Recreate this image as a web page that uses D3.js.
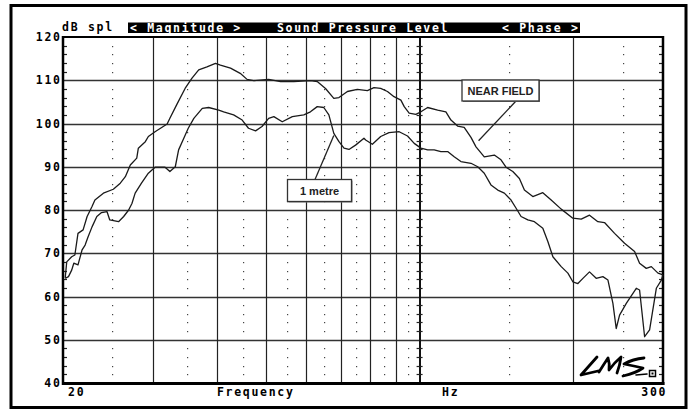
<!DOCTYPE html>
<html><head><meta charset="utf-8">
<script src="https://cdn.jsdelivr.net/npm/d3@7"></script>
<style>body{margin:0;background:#fff}svg{display:block}</style>
</head><body>
<script>
// ---- data ----
const nearFreq = [20.2,20.34,20.8,21.1,21.4,21.9,22.3,22.8,23.1,24.0,25.1,25.9,26.5,27.1,27.9,28.1,29.0,29.4,30.3,32.0,32.4,33.4,34.7,35.8,36.9,38.3,39.8,40.7,42.6,44.5,45.9,47.3,50.6,53.4,56.7,61.1,63.0,65.4,67.9,69.5,72.2,75.5,79.0,81.4,83.9,86.5,89.1,91.9,93.3,95.4,98.3,100.6,103.7,108.5,112.6,115.2,118.7,122.3,126.1,129.0,133.9,140.1,144.4,147.7,152.3,156.9,160.5,166.7,174.4,181.1,189.5,199.7,207.4,215.3,223.6,230.4,241.1,252.2,263.9,269.9,278.2,284.6,293.3,300];
const nearDb = [64.3,68,69.2,69.6,74.6,75.4,78.5,80.8,82.3,83.9,84.8,86.2,87.7,90.4,92,94.3,95.8,97,98.1,99.9,101.2,104.3,108.1,110.5,112.4,113.1,113.9,113.5,112.8,111.6,110.2,109.9,110.2,109.7,109.7,109.9,109.7,108.1,105.8,106,107.4,107.9,107.6,108.3,108.1,107.4,106.2,105.4,103.9,102.4,102.1,102.7,103.7,103.1,102.7,100.8,99.4,99.1,96.8,94.6,92.3,92.7,91.6,89.9,88.9,87.3,84.6,83.1,84,82.3,80.2,78.1,77.9,78.8,77.3,77.1,74.6,72.3,70.4,67.7,66.5,66.9,65.4,65];
const metreFreq = [20.2,20.5,20.8,21.0,21.4,21.8,22.1,22.4,22.8,23.3,23.8,24.4,24.7,25.7,26.3,26.9,27.3,27.7,28.5,29.4,30.3,31.7,32.4,33.2,33.7,34.5,35.2,36.1,37.5,38.6,40.4,41.3,43.2,44.9,46.2,47.7,49.1,50.6,51.8,53.8,56.3,59.3,61.1,63.0,64.9,66.4,67.9,69.5,71.1,72.7,74.9,77.8,78.4,80.8,83.9,87.1,91.2,94.7,97.6,100.6,103.7,106.8,110.1,113.5,116.9,120.5,126.1,130.0,133.9,138.0,142.3,146.6,151.1,154.6,158.1,163.0,167.9,174.4,178.4,182.5,189.5,195.3,199.7,204.3,209.0,215.3,221.9,228.7,234.0,239.3,242.9,246.6,254.2,265.9,269.9,276.1,282.4,291.1,297.8,300];
const metreDb = [64.2,64.6,66.1,67.7,67.3,70.8,71.9,73.8,76.1,78.5,79.4,79.6,77.7,77.3,78.5,80,81.5,83.9,86.2,88.5,89.9,89.9,88.9,90,93.9,96.6,98.9,101.2,103.5,103.7,103.1,102.7,102,100.8,98.9,98.3,99.3,101.2,101.6,100.4,101.6,102,102.7,103.9,103.7,102,97.7,95.8,94.3,94,95,96.6,96.2,95.2,97,97.9,98.1,97.1,95.4,94.3,93.9,93.9,93.5,93.5,92.3,91.2,90.8,90,88.5,85.8,84.6,83.9,82.3,80.4,78.5,77.7,77.3,75.8,72.7,69.2,66.9,65.4,63.4,63,64.2,65.7,64.2,64.6,63.8,58.4,52.6,55.7,58.4,61.9,61.5,50.7,52.3,61.9,63.8,65];
const yTickValues = [40,50,60,70,80,90,100,110,120];
const solidFreqs = [30,40,50,60,70,80,90,200];
const majorFreq = 100;
const dottedFreqs = [25,35,45,55,65,75,85,95,150,250];
const xLabels = [{f:20,t:"20"},{f:300,t:"300"}];
const headerTexts = ["< Magnitude >","Sound Pressure Level","< Phase >"];

// ---- layout ----
const W=693,H=413;
const svg=d3.select("body").append("svg").attr("width",W).attr("height",H);
const x=d3.scaleLog().domain([20,300]).range([63,663]);
const y=d3.scaleLinear().domain([40,120]).range([383,37]);
const mono="'DejaVu Sans Mono','Liberation Mono',monospace";
const CW=8.6, FS=11.5;

function monoText(sel,t,xx,yy,anchor){
  return sel.append("text").attr("x",xx).attr("y",yy).attr("text-anchor",anchor||"start").text(t)
    .attr("font-family",mono).attr("font-weight","bold").attr("font-size",FS)
    .attr("textLength",t.length*CW-1.5).attr("lengthAdjust","spacing");
}

// outer frame
svg.append("rect").attr("x",11).attr("y",5.5).attr("width",675).attr("height",402)
  .attr("fill","none").attr("stroke","#000").attr("stroke-width",3);

const g=svg.append("g");
const minor=d3.range(40,121,2).filter(v=>v%10!==0);

// horizontal grid
g.selectAll(".hg").data(yTickValues.filter(v=>v>40&&v<120)).join("line")
  .attr("x1",63).attr("x2",663).attr("y1",d=>Math.round(y(d))+0.5).attr("y2",d=>Math.round(y(d))+0.5)
  .attr("stroke","#333").attr("stroke-width",1.4);
// vertical solid grid
g.selectAll(".vg").data(solidFreqs).join("line")
  .attr("x1",d=>Math.round(x(d))+0.5).attr("x2",d=>Math.round(x(d))+0.5).attr("y1",37).attr("y2",383)
  .attr("stroke","#222").attr("stroke-width",1.2);
g.append("line").attr("x1",Math.round(x(majorFreq))).attr("x2",Math.round(x(majorFreq))).attr("y1",37).attr("y2",383)
  .attr("stroke","#111").attr("stroke-width",2);
g.selectAll(".mt").data(minor).join("line")
  .attr("x1",x(majorFreq)-3).attr("x2",x(majorFreq)+3).attr("y1",d=>Math.round(y(d))+0.5).attr("y2",d=>Math.round(y(d))+0.5)
  .attr("stroke","#222").attr("stroke-width",1.2);
// dotted columns
dottedFreqs.forEach(f=>{
  g.selectAll(null).data(minor).join("rect")
   .attr("x",Math.round(x(f))).attr("y",d=>Math.round(y(d))).attr("width",1.2).attr("height",1.2).attr("fill","#444");
});
// axis ticks left/right
g.selectAll(".lt").data(minor).join("line")
  .attr("x1",63).attr("x2",67).attr("y1",d=>Math.round(y(d))+0.5).attr("y2",d=>Math.round(y(d))+0.5)
  .attr("stroke","#222").attr("stroke-width",1.2);
g.selectAll(".rt").data(minor).join("line")
  .attr("x1",659).attr("x2",663).attr("y1",d=>Math.round(y(d))+0.5).attr("y2",d=>Math.round(y(d))+0.5)
  .attr("stroke","#222").attr("stroke-width",1.2);

// plot frame
g.append("line").attr("x1",63).attr("x2",663).attr("y1",37).attr("y2",37).attr("stroke","#000").attr("stroke-width",2);
g.append("line").attr("x1",63).attr("x2",63).attr("y1",36).attr("y2",385).attr("stroke","#000").attr("stroke-width",2.5);
g.append("line").attr("x1",663).attr("x2",663).attr("y1",36).attr("y2",385).attr("stroke","#000").attr("stroke-width",2.5);
g.append("line").attr("x1",62).attr("x2",664.5).attr("y1",383.5).attr("y2",383.5).attr("stroke","#000").attr("stroke-width",3);

// curves
const line=d3.line().x(d=>x(d[0])).y(d=>y(d[1]));
g.append("path").datum(d3.zip(nearFreq,nearDb)).attr("d",line)
  .attr("fill","none").attr("stroke","#1a1a1a").attr("stroke-width",1.3).attr("stroke-linejoin","round");
g.append("path").datum(d3.zip(metreFreq,metreDb)).attr("d",line)
  .attr("fill","none").attr("stroke","#1a1a1a").attr("stroke-width",1.3).attr("stroke-linejoin","round");

// header
svg.append("rect").attr("x",128).attr("y",22.5).attr("width",452).attr("height",10.5).attr("fill","#000");
const hx=[130,277,502];
headerTexts.forEach((t,i)=>{ monoText(svg,t,hx[i],31.5).attr("fill","#fff"); });
monoText(svg,"dB spl",62,31);

// y labels
yTickValues.forEach(v=>monoText(svg,String(v),60,y(v)+4,"end"));

// x labels
monoText(svg,xLabels[0].t,68,396);
monoText(svg,xLabels[1].t,665.5,396,"end");
monoText(svg,"Frequency",217,396);
monoText(svg,"Hz",442,396);

// annotations
function callout(bx,by,bw,bh,label,lx1,ly1,f,db){
  svg.append("line").attr("x1",lx1).attr("y1",ly1).attr("x2",x(f)).attr("y2",y(db))
    .attr("stroke","#222").attr("stroke-width",1.3);
  svg.append("rect").attr("x",bx+1).attr("y",by+1).attr("width",bw).attr("height",bh).attr("fill","#777");
  svg.append("rect").attr("x",bx).attr("y",by).attr("width",bw).attr("height",bh)
    .attr("fill","#fff").attr("stroke","#333").attr("stroke-width",1.3);
  svg.append("text").attr("x",bx+bw/2).attr("y",by+bh/2+4).attr("text-anchor","middle").text(label)
    .attr("font-family","'Liberation Sans',Arial,sans-serif").attr("font-weight","bold").attr("font-size",11)
    .attr("fill","#222");
}
callout(462,80,77,21,"NEAR FIELD",516,101,130.5,96);
callout(287.5,179.5,64,22,"1 metre",315,179.5,67.9,97.2);

// LMS logo
const logo=svg.append("g").attr("fill","none").attr("stroke","#000").attr("stroke-width",2.8)
  .attr("stroke-linecap","round").attr("stroke-linejoin","round");
logo.append("path").attr("d","M597,357 L581,375 L598,371");
logo.append("path").attr("d","M599,372 Q604,364 608,358 Q610,364 609,370 Q615,362 621,357 Q620,365 617,373");
logo.append("path").attr("d","M644,358 Q633,359 624,364 Q634,366 643,368 Q636,373 623,376");
logo.append("path").attr("d","M636,375 L647,374").attr("stroke-width",1.6);
svg.append("rect").attr("x",649.5).attr("y",370.5).attr("width",6).attr("height",6).attr("fill","#fff").attr("stroke","#000").attr("stroke-width",1.5);
svg.append("rect").attr("x",651.5).attr("y",372.5).attr("width",2).attr("height",2).attr("fill","#000");
</script>
</body></html>
